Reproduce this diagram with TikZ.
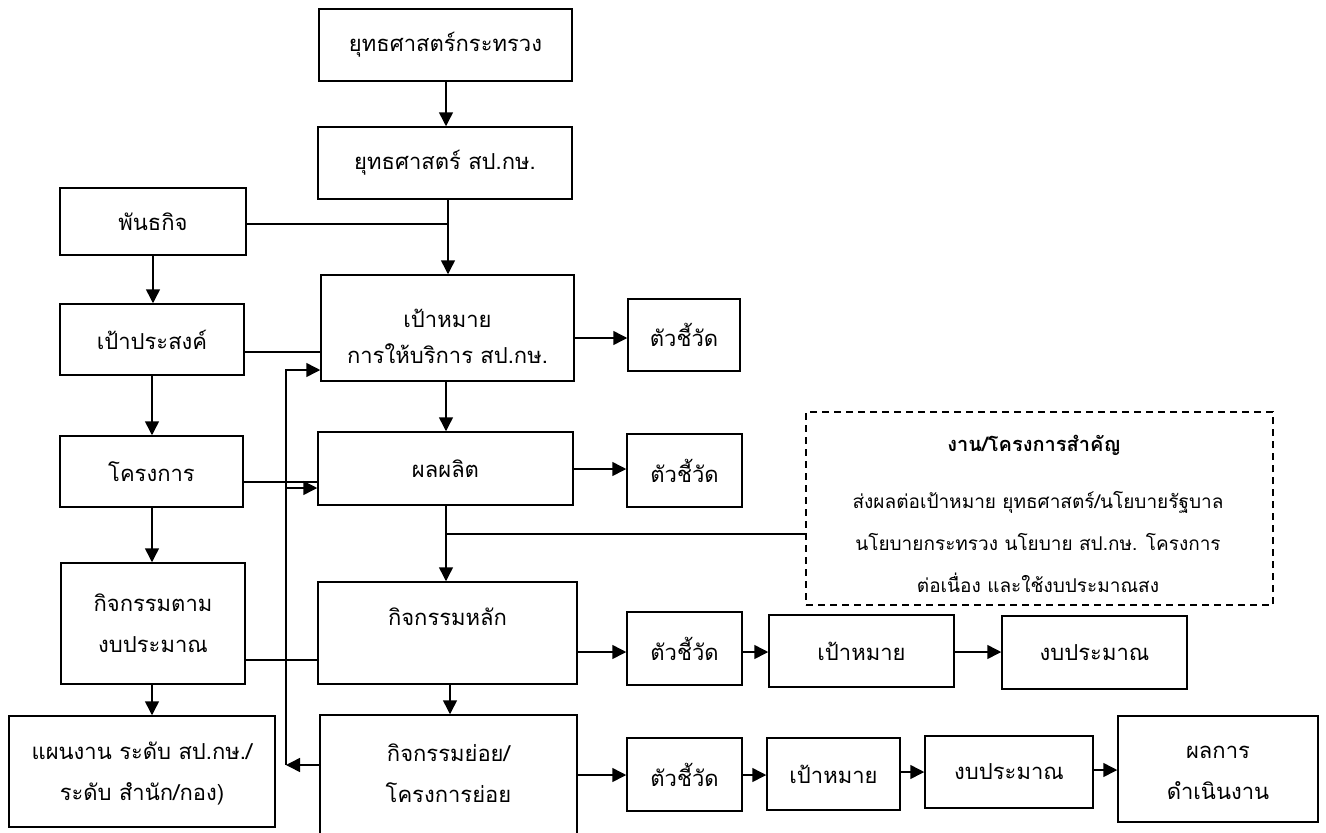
\documentclass[tikz,border=0pt]{standalone}
\usepackage{fontspec}
\newfontfamily\thai[Script=Thai]{Loma}
\usetikzlibrary{arrows.meta,fit}
\tikzset{
  box/.style={draw, line width=1.5pt, inner sep=0pt},
  txt/.style={inner sep=0pt, align=center, font=\thai\fontsize{22}{41}\selectfont},
  notetxt/.style={inner sep=0pt, align=center, font=\thai\fontsize{19}{42}\selectfont},
  conn/.style={line width=1.5pt},
  arr/.style={line width=1.5pt, -{Triangle[length=14pt,width=14pt]}},
}
% box with its text; optional arg = vertical shift of the text (pt, up is positive)
\newcommand\bx[4][0pt]{%
  \node[box, fit={#3}] (#2) {};
  \node[txt] (#2t) at ([yshift=#1]#2.center) {#4};}
\begin{document}
\begin{tikzpicture}[x=1pt,y=-1pt]
\useasboundingbox (0,0) rectangle (1326,833);
\clip (0,0) rectangle (1326,833);
% boxes
\bx{s1}{(319,9) (572,81)}{ยุทธศาสตร์กระทรวง}
\bx{s2}{(318,127) (572,199)}{ยุทธศาสตร์ สป.กษ.}
\bx{mis}{(60,188) (246,255)}{พันธกิจ}
\node[box, fit={(321,275) (574,381)}] (goal) {};
\node[txt, font=\thai\fontsize{22}{36}\selectfont] (goalt) at ([yshift=-8pt]goal.center) {เป้าหมาย\\การให้บริการ สป.กษ.};
\bx{ind1}{(628,299) (740,371)}{ตัวชี้วัด}
\bx{obj}{(60,304) (244,375)}{เป้าประสงค์}
\bx{proj}{(60,436) (243,507)}{โครงการ}
\bx{out}{(318,432) (573,505)}{ผลผลิต}
\bx{ind2}{(627,434) (742,507)}{ตัวชี้วัด}
\node[draw, dashed, dash pattern=on 7pt off 5pt, line width=1.3pt, inner sep=0pt, fit={(806,412) (1273,605)}] (note) {};
\node[notetxt, font=\thai\bfseries\fontsize{20}{42}\selectfont] (notet) at (1034,445) {งาน/โครงการสำคัญ};
\node[notetxt] (noteb) at (1038,542) {ส่งผลต่อเป้าหมาย ยุทธศาสตร์/นโยบายรัฐบาล\\นโยบายกระทรวง นโยบาย สป.กษ. โครงการ\\ต่อเนื่อง และใช้งบประมาณสง};
\bx{act}{(61,563) (245,684)}{กิจกรรมตาม\\งบประมาณ}
\bx[16pt]{main}{(318,582) (577,684)}{กิจกรรมหลัก}
\bx{ind3}{(627,612) (742,685)}{ตัวชี้วัด}
\bx{tgt3}{(769,615) (954,687)}{เป้าหมาย}
\bx{bud3}{(1002,616) (1187,689)}{งบประมาณ}
\bx[-2pt]{plan}{(9,716) (275,827)}{แผนงาน ระดับ สป.กษ./\\ระดับ สำนัก/กอง)}
\bx[24pt]{sub}{(320,715) (577,880)}{กิจกรรมย่อย/\\โครงการย่อย}
\bx{ind4}{(627,738) (742,811)}{ตัวชี้วัด}
\bx{tgt4}{(767,738) (900,810)}{เป้าหมาย}
\bx{bud4}{(925,736) (1093,808)}{งบประมาณ}
\bx[-4pt]{res}{(1118,716) (1318,822)}{ผลการ\\ดำเนินงาน}
% junction coordinates
\coordinate (j1) at (448,224);
\coordinate (j2) at (446,534);
\coordinate (fb1) at (286,765);
\coordinate (fb2) at (286,370);
\coordinate (fb3) at (286,488);
% connectors
\draw[arr] (s1.south -| 446,0) -- (s2.north -| 446,0);
\draw[arr] (s2.south -| 448,0) -- (goal.north -| 448,0);
\draw[conn] (mis.east |- j1) -- (j1);
\draw[arr] (mis.south -| 153,0) -- (obj.north -| 153,0);
\draw[conn] (obj.east |- 0,352) -- (goal.west |- 0,352);
\draw[arr] (goal.east |- 0,338) -- (ind1.west |- 0,338);
\draw[arr] (goal.south -| 446,0) -- (out.north -| 446,0);
\draw[arr] (obj.south -| 152,0) -- (proj.north -| 152,0);
\draw[conn] (proj.east |- 0,482) -- (out.west |- 0,482);
\draw[arr] (out.east |- 0,469) -- (ind2.west |- 0,469);
\draw[arr] (out.south -| 446,0) -- (main.north -| 446,0);
\draw[conn] (j2) -- (note.west |- j2);
\draw[arr] (proj.south -| 152,0) -- (act.north -| 152,0);
\draw[arr] (act.south -| 152,0) -- (plan.north -| 152,0);
\draw[conn] (act.east |- 0,660) -- (main.west |- 0,660);
\draw[arr] (main.east |- 0,652) -- (ind3.west |- 0,652);
\draw[arr] (ind3.east |- 0,652) -- (tgt3.west |- 0,652);
\draw[arr] (tgt3.east |- 0,652) -- (bud3.west |- 0,652);
\draw[arr] (main.south -| 450,0) -- (sub.north -| 450,0);
\draw[arr] (sub.east |- 0,775) -- (ind4.west |- 0,775);
\draw[arr] (ind4.east |- 0,775) -- (tgt4.west |- 0,775);
\draw[arr] (tgt4.east |- 0,772) -- (bud4.west |- 0,772);
\draw[arr] (bud4.east |- 0,770) -- (res.west |- 0,770);
\draw[arr] (sub.west |- fb1) -- (fb1);
\draw[arr] (fb1) -- (fb2) -- (goal.west |- fb2);
\draw[arr] (fb3) -- (out.west |- fb3);
\end{tikzpicture}
\end{document}
